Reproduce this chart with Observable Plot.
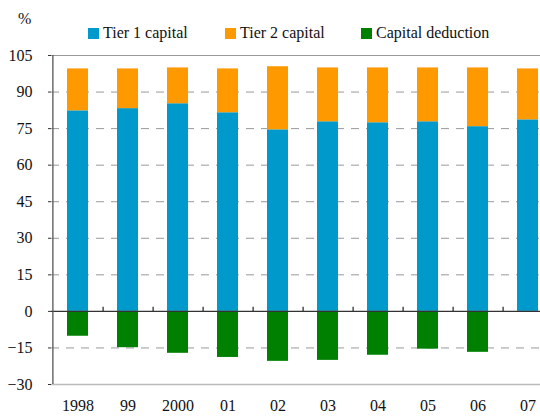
<!DOCTYPE html>
<html>
<head>
<meta charset="utf-8">
<script src="https://cdn.jsdelivr.net/npm/d3@7"></script>
<script src="https://cdn.jsdelivr.net/npm/@observablehq/plot@0.6"></script>
<style>
  html, body { margin: 0; padding: 0; background: #fff; }
  #wrap { position: relative; width: 540px; height: 417px; overflow: hidden; font-family: "Liberation Serif", "DejaVu Serif", serif; color: #111; }
  #pct { position: absolute; left: 18px; top: 10px; font-size: 16px; }
  #legend { position: absolute; left: 0; top: 23px; height: 20px; width: 540px; font-size: 16px; }
  .item { position: absolute; top: 0; display: flex; align-items: center; height: 20px; white-space: nowrap; }
  .sw { width: 11px; height: 11px; margin-right: 4px; }
  #chart { position: absolute; left: 0; top: 0; }
  #chart svg text { font-family: "Liberation Serif", "DejaVu Serif", serif; }
</style>
</head>
<body>
<div id="wrap">
  <div id="chart"></div>
  <div id="pct">%</div>
  <div id="legend"></div>
</div>
<script>
const years = ["1998","99","2000","01","02","03","04","05","06","07"];
const tier1 = [82.3, 83.2, 85.2, 81.5, 74.5, 77.8, 77.4, 77.8, 75.8, 78.6];
const tier2 = [17.2, 16.3, 14.7, 18.0, 25.9, 22.1, 22.5, 22.1, 24.1, 20.9];
const deduction = [-10.2, -14.9, -17.2, -18.9, -20.5, -20.1, -18.0, -15.5, -16.8, 0];
const seriesNames = ["Tier 1 capital", "Tier 2 capital", "Capital deduction"];
const seriesColors = ["#0099CC", "#FF9900", "#008000"];
const yTicks = [-30, -15, 0, 15, 30, 45, 60, 75, 90, 105];
const gridTicks = [-15, 15, 30, 45, 60, 75, 90];

const rows = [];
[tier1, tier2, deduction].forEach((vals, si) => {
  vals.forEach((v, i) => rows.push({year: years[i], series: seriesNames[si], value: v}));
});

const legend = document.getElementById("legend");
const legendX = [88, 225, 361];
seriesNames.forEach((name, i) => {
  const it = document.createElement("div");
  it.className = "item";
  it.style.left = legendX[i] + "px";
  it.innerHTML = `<span class="sw" style="background:${seriesColors[i]}"></span><span>${name}</span>`;
  legend.appendChild(it);
});

const serif = '"Liberation Serif", "DejaVu Serif", serif';
const chart = Plot.plot({
  width: 540,
  height: 417,
  marginTop: 55,
  marginBottom: 33,
  marginLeft: 51,
  marginRight: 0,
  style: {fontFamily: serif, fontSize: "16px", color: "#111", background: "transparent", overflow: "hidden"},
  x: {domain: years, range: [51.5, 553.5], paddingInner: 0.58, paddingOuter: 0.29, align: 0.5},
  y: {domain: [-30, 105]},
  color: {domain: seriesNames, range: seriesColors},
  marks: [
    Plot.ruleY(gridTicks, {stroke: "#999", strokeDasharray: "8,7", strokeWidth: 1}),
    Plot.ruleY([105], {stroke: "#999", strokeWidth: 1.2}),
    Plot.ruleY([-30], {stroke: "#bbb", strokeWidth: 1.5}),
    Plot.barY(rows, {x: "year", y: "value", fill: "series", order: seriesNames}),
    Plot.ruleY([0], {stroke: "#333", strokeWidth: 1.3}),
    Plot.ruleX(years.slice(0, -1), {x: d => d, y1: 0, y2: 1.7, dx: 25.1, stroke: "#222", strokeWidth: 1.2}),
    Plot.ruleX([years[0]], {x: d => d, y1: -30, y2: 105, dx: -25.1, stroke: "#555", strokeWidth: 1.3}),
    Plot.axisY({ticks: yTicks, tickSize: 3, tickPadding: 16, stroke: "#333", fill: "#111", fontSize: 16, fontFamily: serif, label: null}),
    Plot.axisX({tickSize: 0, tickPadding: 15, fill: "#111", fontSize: 16, fontFamily: serif, label: null})
  ]
});
document.getElementById("chart").appendChild(chart);
</script>
</body>
</html>
